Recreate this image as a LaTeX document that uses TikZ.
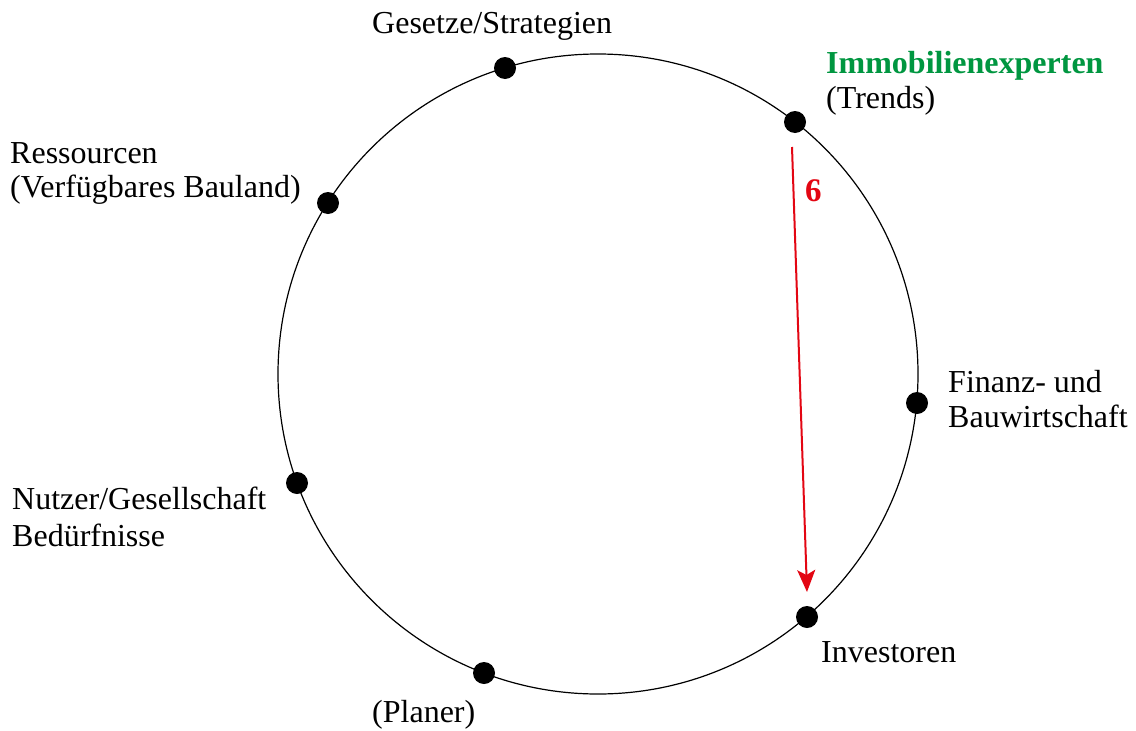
\documentclass[tikz,border=0pt]{standalone}
\usepackage{fontspec}
\setmainfont{Liberation Serif}
\usetikzlibrary{arrows.meta}
\definecolor{akteurgreen}{RGB}{0,150,64}
\definecolor{flussred}{RGB}{227,6,19}
\begin{document}
\begin{tikzpicture}[x=1pt,y=-1pt,
  lbl/.style={anchor=base west,inner sep=0pt,font=\fontsize{32}{34}\selectfont},
  dot/.style={circle,fill=black,inner sep=0pt,minimum size=22pt},
  flow/.style={draw=flussred,line width=2pt,-{Stealth[length=22pt,width=18pt,inset=5pt]}}]
  \useasboundingbox (0,0) rectangle (1136,731);
  % ring
  \draw[line width=1.2pt] (598,374) circle[radius=320];
  % actors on the ring
  \node[dot] (gesetze)    at (505,68)  {};
  \node[dot] (experten)   at (795,122) {};
  \node[dot] (finanz)     at (917,403) {};
  \node[dot] (investoren) at (807,617) {};
  \node[dot] (planer)     at (484,673) {};
  \node[dot] (nutzer)     at (297,483) {};
  \node[dot] (ressourcen) at (328,203) {};
  % labels
  \node[lbl] (tGesetze) at (372,33) {Gesetze/Strategien};
  \node[lbl,text=akteurgreen,font=\fontsize{32}{34}\selectfont\bfseries] (tExperten) at (826,73) {Immobilienexperten};
  \node[lbl] (tTrends) at (826,108) {(Trends)};
  \node[lbl] (tRes1) at (10,163) {Ressourcen};
  \node[lbl] (tRes2) at (10,197) {(Verfügbares Bauland)};
  \node[lbl] (tFin1) at (948,392) {Finanz- und};
  \node[lbl] (tFin2) at (948,427) {Bauwirtschaft};
  \node[lbl] (tNutz1) at (12,509) {Nutzer/Gesellschaft};
  \node[lbl] (tNutz2) at (12,546) {Bedürfnisse};
  \node[lbl] (tInv) at (821,662) {Investoren};
  \node[lbl] (tPlan) at (372,722) {(Planer)};
  % flow 6
  \coordinate (fStart) at (792,147);
  \coordinate (fEnd) at (807,592);
  \draw[flow] (fStart) -- (fEnd);
  \node[anchor=base west,inner sep=0pt,text=flussred,font=\fontsize{33}{34}\selectfont\bfseries] (nr6) at (805,201) {6};
\end{tikzpicture}
\end{document}
